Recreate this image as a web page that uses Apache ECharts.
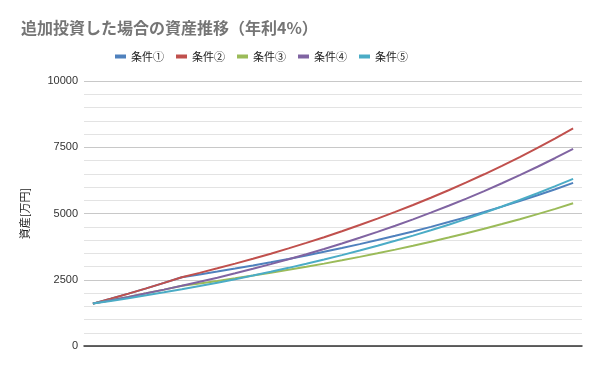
<!DOCTYPE html>
<html>
<head>
<meta charset="utf-8">
<script src="https://cdn.jsdelivr.net/npm/echarts@6/dist/echarts.min.js"></script>
<style>
html,body{margin:0;padding:0;background:#fff;}
#c{width:600px;height:371px;}
</style>
</head>
<body>
<div id="c"></div>
<script>
const years = ['0','1','2','3','4','5','6','7','8','9','10','11','12','13','14','15','16','17','18','19','20','21','22','23','24','25','26','27'];
const seriesNames = ['条件①','条件②','条件③','条件④','条件⑤'];
const cond1 = [1600,1784,1975,2174,2381,2597,2700,2808,2921,3038,3159,3286,3417,3554,3696,3844,3997,4157,4324,4496,4676,4863,5058,5260,5471,5689,5917,6154];
const cond2 = [1600,1784,1975,2174,2381,2597,2760,2931,3108,3292,3484,3684,3891,4106,4331,4564,4807,5059,5321,5594,5878,6173,6480,6799,7131,7476,7835,8209];
const cond3 = [1600,1724,1853,1987,2127,2272,2362,2457,2555,2657,2764,2874,2989,3109,3233,3363,3497,3637,3782,3934,4091,4255,4425,4602,4786,4977,5176,5384];
const cond4 = [1600,1724,1853,1987,2127,2272,2422,2579,2743,2912,3089,3272,3463,3662,3868,4083,4306,4538,4780,5031,5292,5564,5847,6141,6446,6764,7095,7438];
const cond5 = [1600,1700,1804,1912,2025,2142,2263,2390,2521,2658,2801,2949,3103,3263,3429,3602,3782,3970,4165,4367,4578,4797,5025,5262,5508,5765,6031,6308];
const yTicks = [0,2500,5000,7500,10000];
const colors = ['#4F81BD','#C0504D','#9BBB59','#8064A2','#4BACC6'];
const allData = [cond1,cond2,cond3,cond4,cond5];

const chart = echarts.init(document.getElementById('c'));
chart.setOption({
  animation:false,
  title:{
    text:'追加投資した場合の資産推移（年利4%）',
    left:16, top:15,
    textStyle:{color:'#757575', fontSize:16, fontWeight:'bold', fontFamily:'Noto Sans CJK JP'}
  },
  legend:{
    top:46, left:110,
    icon:'rect', itemWidth:11, itemHeight:4, itemGap:12,
    textStyle:{color:'#222', fontSize:11, fontFamily:'Noto Sans CJK JP'},
    data:seriesNames
  },
  grid:{left:84, right:18, top:81, bottom:25, containLabel:false},
  xAxis:{
    type:'category', data:years, boundaryGap:true,
    axisLine:{show:true, lineStyle:{color:'#333', width:1.5}},
    axisTick:{show:false}, axisLabel:{show:false}
  },
  yAxis:{
    type:'value', min:yTicks[0], max:yTicks[yTicks.length-1], interval:2500,
    name:'資産[万円]', nameLocation:'middle', nameRotate:90, nameGap:54,
    nameTextStyle:{color:'#222', fontSize:11, fontFamily:'Noto Sans CJK JP'},
    axisLine:{show:false}, axisTick:{show:false},
    axisLabel:{color:'#333', fontSize:11, margin:6, fontFamily:'Liberation Sans', formatter:(v)=>String(v)},
    splitLine:{show:true, lineStyle:{color:'#c8c8c8', width:1}},
    minorTick:{show:false, splitNumber:5},
    minorSplitLine:{show:true, lineStyle:{color:'#e3e3e3', width:1}}
  },
  series: seriesNames.map((n,i)=>({
    name:n, type:'line', data:allData[i], showSymbol:false, smooth:false,
    lineStyle:{color:colors[i], width:2}, itemStyle:{color:colors[i]}
  }))
});
</script>
</body>
</html>
